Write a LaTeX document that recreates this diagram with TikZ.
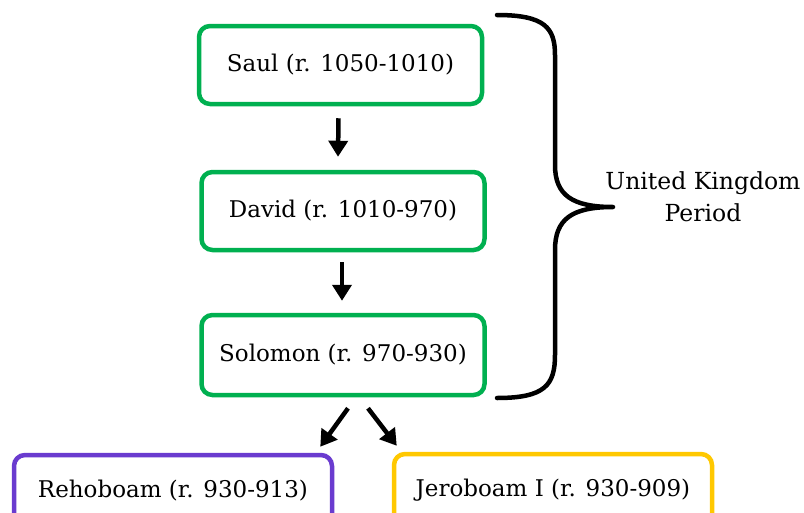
\documentclass[tikz,border=0pt]{standalone}
\usepackage{fontspec}
\setmainfont{DejaVu Serif}
\usetikzlibrary{arrows.meta}
\definecolor{kgreen}{HTML}{00B050}
\definecolor{kpurple}{HTML}{6A3BCF}
\definecolor{kgold}{HTML}{FFC800}
\tikzset{
  king/.style={draw=#1, line width=4.5pt, rounded corners=11pt, fill=white,
    minimum width=283pt, minimum height=78pt, inner sep=0pt,
    font=\fontsize{23}{26}\selectfont},
  arr/.style={line width=4.5pt, -{Triangle[width=19pt,length=16pt]}},
  brace/.style={line width=4.5pt, line cap=round, line join=round},
  lbl/.style={font=\fontsize{23.5}{32}\selectfont, align=center}
}
\begin{document}
\begin{tikzpicture}[x=1pt,y=-1pt]
\useasboundingbox (0,0) rectangle (804,512);
\clip (0,0) rectangle (804,512);
\node[king=kgreen] (saul) at (340.5,65) {Saul (r. 1050-1010)};
\node[king=kgreen] (david) at (343,211) {David (r. 1010-970)};
\node[king=kgreen, minimum height=80pt] (sol) at (343,355) {Solomon (r. 970-930)};
\node[king=kpurple, minimum width=318pt, minimum height=72pt] (reh) at (173,491) {Rehoboam (r. 930-913)};
\node[king=kgold, minimum width=318pt, minimum height=72pt] (jer) at (553,490) {Jeroboam I (r. 930-909)};
\draw[arr] ([xshift=-2pt,yshift=-12pt]saul.south) -- ([xshift=-5pt,yshift=13pt]david.north);
\draw[arr] ([xshift=-1pt,yshift=-10pt]david.south) -- ([xshift=-1pt,yshift=12pt]sol.north);
\draw[arr] ([xshift=5pt,yshift=-11pt]sol.south) -- ([xshift=-14pt,yshift=6pt]reh.north east);
\draw[arr] ([xshift=25pt,yshift=-11pt]sol.south) -- ([xshift=5pt,yshift=6pt]jer.north west);
\draw[brace] (497,15) .. controls (545,15) and (555,28) .. (555,55) -- (555,165)
  .. controls (555,195) and (572,207) .. (613,207)
  .. controls (572,207) and (555,219) .. (555,250) -- (555,355)
  .. controls (555,385) and (545,398) .. (497,398);
\node[lbl] (ukp) at (703,197) {United Kingdom\\Period};
\end{tikzpicture}
\end{document}
